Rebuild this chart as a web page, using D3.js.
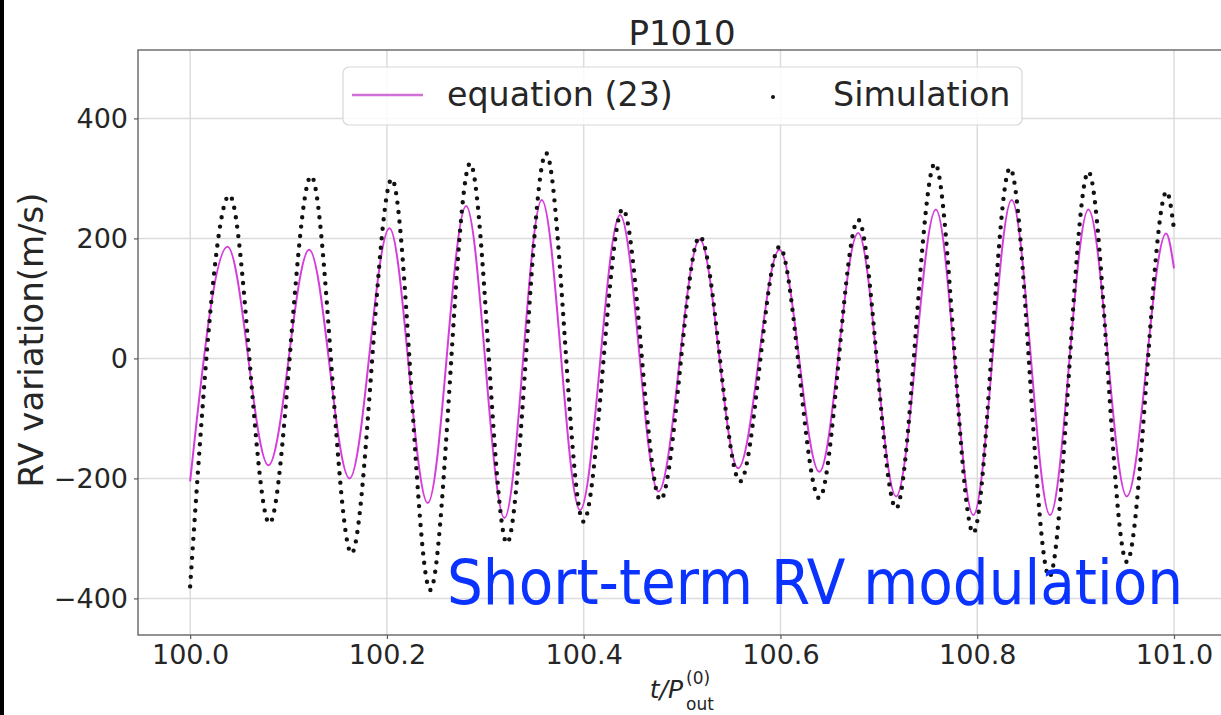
<!DOCTYPE html>
<html>
<head>
<meta charset="utf-8">
<script src="https://cdn.jsdelivr.net/npm/d3@7"></script>
<style>
  html, body { margin: 0; padding: 0; background: #fff; }
  svg { display: block; }
</style>
</head>
<body>
<svg id="chart" width="1221" height="715"></svg>
<script>
// ---- data ----
const titleText = "P1010";
const xTicks = [100.0, 100.2, 100.4, 100.6, 100.8, 101.0];
const yTicks = [-400, -200, 0, 200, 400];

// equation (23): turning points of the magenta curve (t / P_out, RV m/s)
const eqT  = [100.000, 100.038, 100.0796, 100.121, 100.162, 100.2026, 100.2415, 100.2805, 100.3195,
              100.3574, 100.3963, 100.437, 100.476, 100.518, 100.557, 100.599, 100.6395, 100.679,
              100.7175, 100.758, 100.796, 100.835, 100.874, 100.913, 100.952, 100.992, 101.000];
const eqRV = [-205, 186, -178, 181, -200, 217, -241, 254, -266,
              264, -253, 239, -222, 198, -183, 181, -189, 209,
              -230, 248, -261, 264, -261, 248, -230, 208, 150];

// Simulation: turning points of the dotted black curve
const simT  = [100.000, 100.040, 100.0806, 100.123, 100.164, 100.205, 100.244, 100.2846, 100.322,
               100.3618, 100.3997, 100.4397, 100.478, 100.518, 100.559, 100.599, 100.6395, 100.679,
               100.7175, 100.757, 100.796, 100.8333, 100.8733, 100.913, 100.952, 100.9925, 101.000];
const simRV = [-380, 272, -275, 304, -325, 299, -386, 325, -308,
               342, -272, 249, -236, 203, -205, 186, -233, 231,
               -250, 325, -291, 317, -364, 311, -339, 278, 215];

const legendLabels = ["equation (23)", "Simulation"];
const annotation = "Short-term RV modulation";

// ---- layout ----
const svg = d3.select("#chart");
const plot = {left: 138, right: 1223, top: 50, bottom: 635};

const x = d3.scaleLinear().domain([99.947, 101.0498]).range([plot.left, plot.right]);
const y = d3.scaleLinear().domain([-461, 514]).range([plot.bottom, plot.top]);

svg.append("rect").attr("width", 1221).attr("height", 715).attr("fill", "#fff");
svg.append("rect").attr("x", 0).attr("y", 0).attr("width", 4).attr("height", 715).attr("fill", "#000");

// grid
const grid = svg.append("g");
grid.selectAll("line.gx").data(xTicks).enter().append("line")
  .attr("x1", d => x(d)).attr("x2", d => x(d))
  .attr("y1", plot.top).attr("y2", plot.bottom)
  .attr("stroke", "#dcdcdc").attr("stroke-width", 1.5);
grid.selectAll("line.gy").data(yTicks).enter().append("line")
  .attr("y1", d => y(d)).attr("y2", d => y(d))
  .attr("x1", plot.left).attr("x2", plot.right)
  .attr("stroke", "#dcdcdc").attr("stroke-width", 1.5);

// series
const eqData = eqT.map((t, i) => [t, eqRV[i]]);
const simData = simT.map((t, i) => [t, simRV[i]]);
const lineGen = d3.line().x(d => x(d[0])).y(d => y(d[1])).curve(d3.curveMonotoneX);

svg.append("path").datum(eqData)
  .attr("d", lineGen)
  .attr("fill", "none")
  .attr("stroke", "#d63cdc")
  .attr("stroke-width", 2);

svg.append("path").datum(simData)
  .attr("d", lineGen)
  .attr("fill", "none")
  .attr("stroke", "#111")
  .attr("stroke-width", 4.4)
  .attr("stroke-linecap", "round")
  .attr("stroke-dasharray", "0 9.5");

// spines
svg.append("rect")
  .attr("x", plot.left).attr("y", plot.top)
  .attr("width", plot.right - plot.left).attr("height", plot.bottom - plot.top)
  .attr("fill", "none").attr("stroke", "#5a5a5a").attr("stroke-width", 1.3);

// axes
const fmtY = d => d < 0 ? "\u2212" + Math.abs(d) : String(d);
const xAxis = svg.append("g").attr("transform", `translate(0,${plot.bottom})`)
  .call(d3.axisBottom(x).tickValues(xTicks).tickFormat(d3.format(".1f")).tickSize(4).tickPadding(6).tickSizeOuter(0));
const yAxis = svg.append("g").attr("transform", `translate(${plot.left},0)`)
  .call(d3.axisLeft(y).tickValues(yTicks).tickFormat(fmtY).tickSize(4).tickPadding(6).tickSizeOuter(0));
[xAxis, yAxis].forEach(a => {
  a.select(".domain").remove();
  a.selectAll(".tick line").attr("stroke", "#5a5a5a").attr("stroke-width", 1.2);
  a.selectAll(".tick text").attr("fill", "#262626")
    .style("font-family", "'DejaVu Sans', sans-serif").style("font-size", "27px");
});

// title
svg.append("text").attr("x", 682).attr("y", 45).attr("text-anchor", "middle")
  .style("font-family", "'DejaVu Sans', sans-serif").style("font-size", "34px").attr("fill", "#262626")
  .text(titleText);

// y label
svg.append("text")
  .attr("transform", "translate(43,340) rotate(-90)")
  .attr("text-anchor", "middle")
  .style("font-family", "'DejaVu Sans', sans-serif").style("font-size", "34px").attr("fill", "#262626")
  .text("RV variation(m/s)");

// x label  t/P_out^(0)
const xl = svg.append("g").style("font-family", "'DejaVu Sans', sans-serif").attr("fill", "#262626");
xl.append("text").attr("x", 683).attr("y", 698).attr("text-anchor", "end")
  .style("font-size", "25px").style("font-style", "italic").text("t/P");
xl.append("text").attr("x", 686).attr("y", 684).style("font-size", "17px").text("(0)");
xl.append("text").attr("x", 686).attr("y", 710).style("font-size", "17px").text("out");

// legend
const lg = svg.append("g");
lg.append("rect").attr("x", 343).attr("y", 67).attr("width", 679).attr("height", 58).attr("rx", 6)
  .attr("fill", "#fff").attr("fill-opacity", 0.85).attr("stroke", "#d8d8d8").attr("stroke-width", 1.2);
lg.append("line").attr("x1", 352).attr("x2", 423).attr("y1", 95).attr("y2", 95)
  .attr("stroke", "#d070d8").attr("stroke-width", 2.6);
lg.append("text").attr("x", 447).attr("y", 106)
  .style("font-family", "'DejaVu Sans', sans-serif").style("font-size", "33.3px").attr("fill", "#262626")
  .text(legendLabels[0]);
lg.append("circle").attr("cx", 773).attr("cy", 97).attr("r", 2).attr("fill", "#111");
lg.append("text").attr("x", 833).attr("y", 106)
  .style("font-family", "'DejaVu Sans', sans-serif").style("font-size", "33.3px").attr("fill", "#262626")
  .text(legendLabels[1]);

// annotation
svg.append("text").attr("x", 447).attr("y", 604)
  .style("font-family", "'DejaVu Sans Condensed', 'DejaVu Sans', sans-serif").style("font-size", "62px")
  .attr("fill", "#0a33ff")
  .attr("textLength", 736).attr("lengthAdjust", "spacingAndGlyphs")
  .text(annotation);
</script>
</body>
</html>
